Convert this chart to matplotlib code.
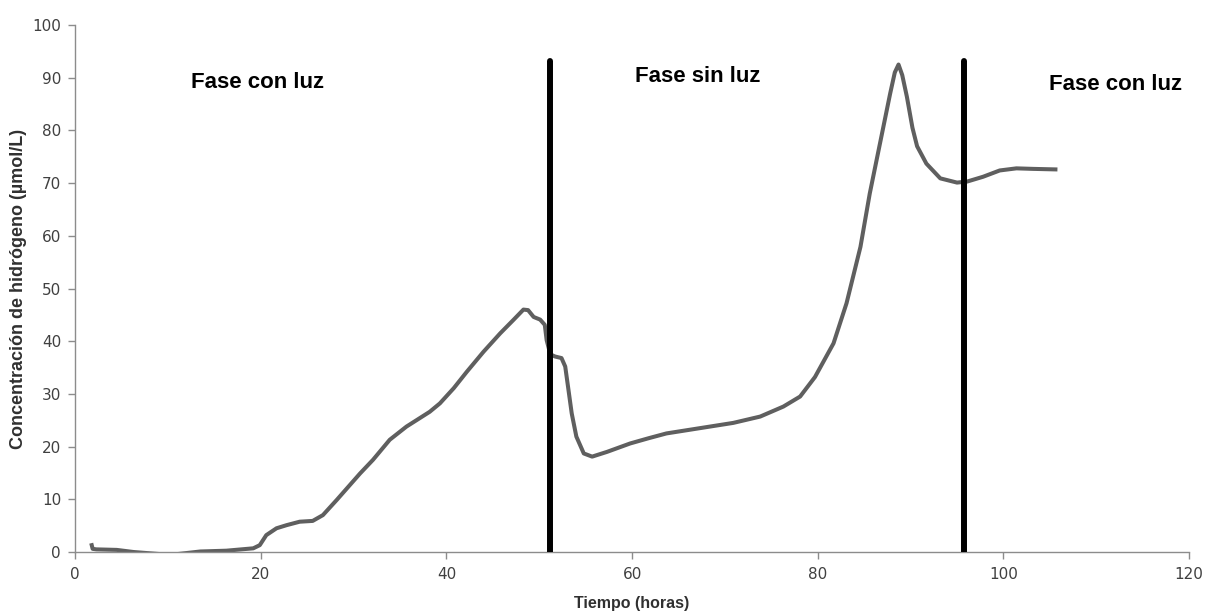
import matplotlib
matplotlib.use("Agg")
import matplotlib.pyplot as plt

# Data
tiempo = [1.8, 1.9, 2.3, 4.5, 6.3, 9.2, 11.0, 13.5, 16.3, 19.2, 19.9, 20.6, 21.7, 22.8, 24.2, 25.6,
          26.7, 28.2, 29.6, 30.7, 32.1, 33.9, 35.7, 38.2, 39.3, 40.8, 42.2, 44.0, 45.8, 47.2,
          48.3, 48.8, 49.4, 50.1, 50.6, 50.8, 51.2, 51.7, 52.4, 52.8, 53.1, 53.5, 54.0, 54.8,
          55.7, 57.3, 59.8, 61.8, 63.7, 67.3, 70.9, 73.8, 76.3, 78.1, 79.7, 81.7, 83.1, 84.6,
          85.6, 86.7, 87.8, 88.3, 88.7, 89.1, 89.6, 90.2, 90.7, 91.7, 93.2, 95.0, 96.1, 97.8,
          99.6, 101.4, 103.2, 105.6]
hidrogeno = [1.3, 0.6, 0.5, 0.4, 0.0, -0.4, -0.4, 0.1, 0.25, 0.7, 1.3, 3.2, 4.5, 5.1, 5.75, 5.9,
             7.0, 9.9, 12.7, 14.9, 17.5, 21.3, 23.8, 26.6, 28.2, 31.1, 34.2, 38.0, 41.5, 44.0,
             46.0, 45.9, 44.6, 44.1, 43.1, 40.2, 37.5, 37.1, 36.8, 35.2, 31.4, 26.3, 21.9, 18.7,
             18.1, 19.0, 20.6, 21.6, 22.5, 23.5, 24.5, 25.7, 27.6, 29.5, 33.2, 39.6, 47.2, 57.9,
             68.0, 77.5, 87.0, 91.0, 92.5, 90.5, 86.4, 80.5, 77.0, 73.7, 70.9, 70.1, 70.3, 71.2,
             72.4, 72.8, 72.7, 72.6]

cambios_fase = [51.2, 95.7]
altura_cambio = 93.2
fases = ["Fase con luz", "Fase sin luz", "Fase con luz"]
fase_x = [19.7, 67.1, 112.1]
fase_y = [89.0, 90.2, 88.7]

x_ticks = [0, 20, 40, 60, 80, 100, 120]
y_ticks = [0, 10, 20, 30, 40, 50, 60, 70, 80, 90, 100]

fig = plt.figure(figsize=(12.06, 6.13), dpi=100)
ax = fig.add_axes([0.0622, 0.0995, 0.9238, 0.8597])

ax.plot(tiempo, hidrogeno, color="#5f5f5f", lw=2.9, solid_joinstyle="round", zorder=2)
for xc in cambios_fase:
    ax.plot([xc, xc], [0, altura_cambio], color="black", lw=4.3, solid_capstyle="round", zorder=3)

for t, x, y in zip(fases, fase_x, fase_y):
    ax.text(x, y, t, ha="center", va="center", fontsize=16, fontweight="bold",
            family="Liberation Sans", color="black")

ax.set_xlim(0, 120)
ax.set_ylim(0, 100)
ax.set_xticks(x_ticks)
ax.set_yticks(y_ticks)
for s in ["top", "right"]:
    ax.spines[s].set_visible(False)
for s in ["left", "bottom"]:
    ax.spines[s].set_color("#8c8c8c")
    ax.spines[s].set_linewidth(1.0)
ax.tick_params(axis="both", colors="#8c8c8c", labelcolor="#404040", length=5, width=1.0,
               direction="out", labelsize=11)
ax.tick_params(axis="x", pad=6)
ax.tick_params(axis="y", pad=5)
for lab in ax.get_yticklabels() + ax.get_xticklabels():
    lab.set_family("DejaVu Sans")

ax.set_ylabel("Concentración de hidrógeno (µmol/L)", fontsize=13, fontweight="bold",
              family="Liberation Sans", color="#303030", labelpad=4)
fig.text(0.5 * (75 + 1189) / 1206, 0.016, "Tiempo (horas)", ha="center", va="center",
         fontsize=11.5, fontweight="bold", family="Liberation Sans", color="#303030")

fig.savefig("out.png", dpi=100)
